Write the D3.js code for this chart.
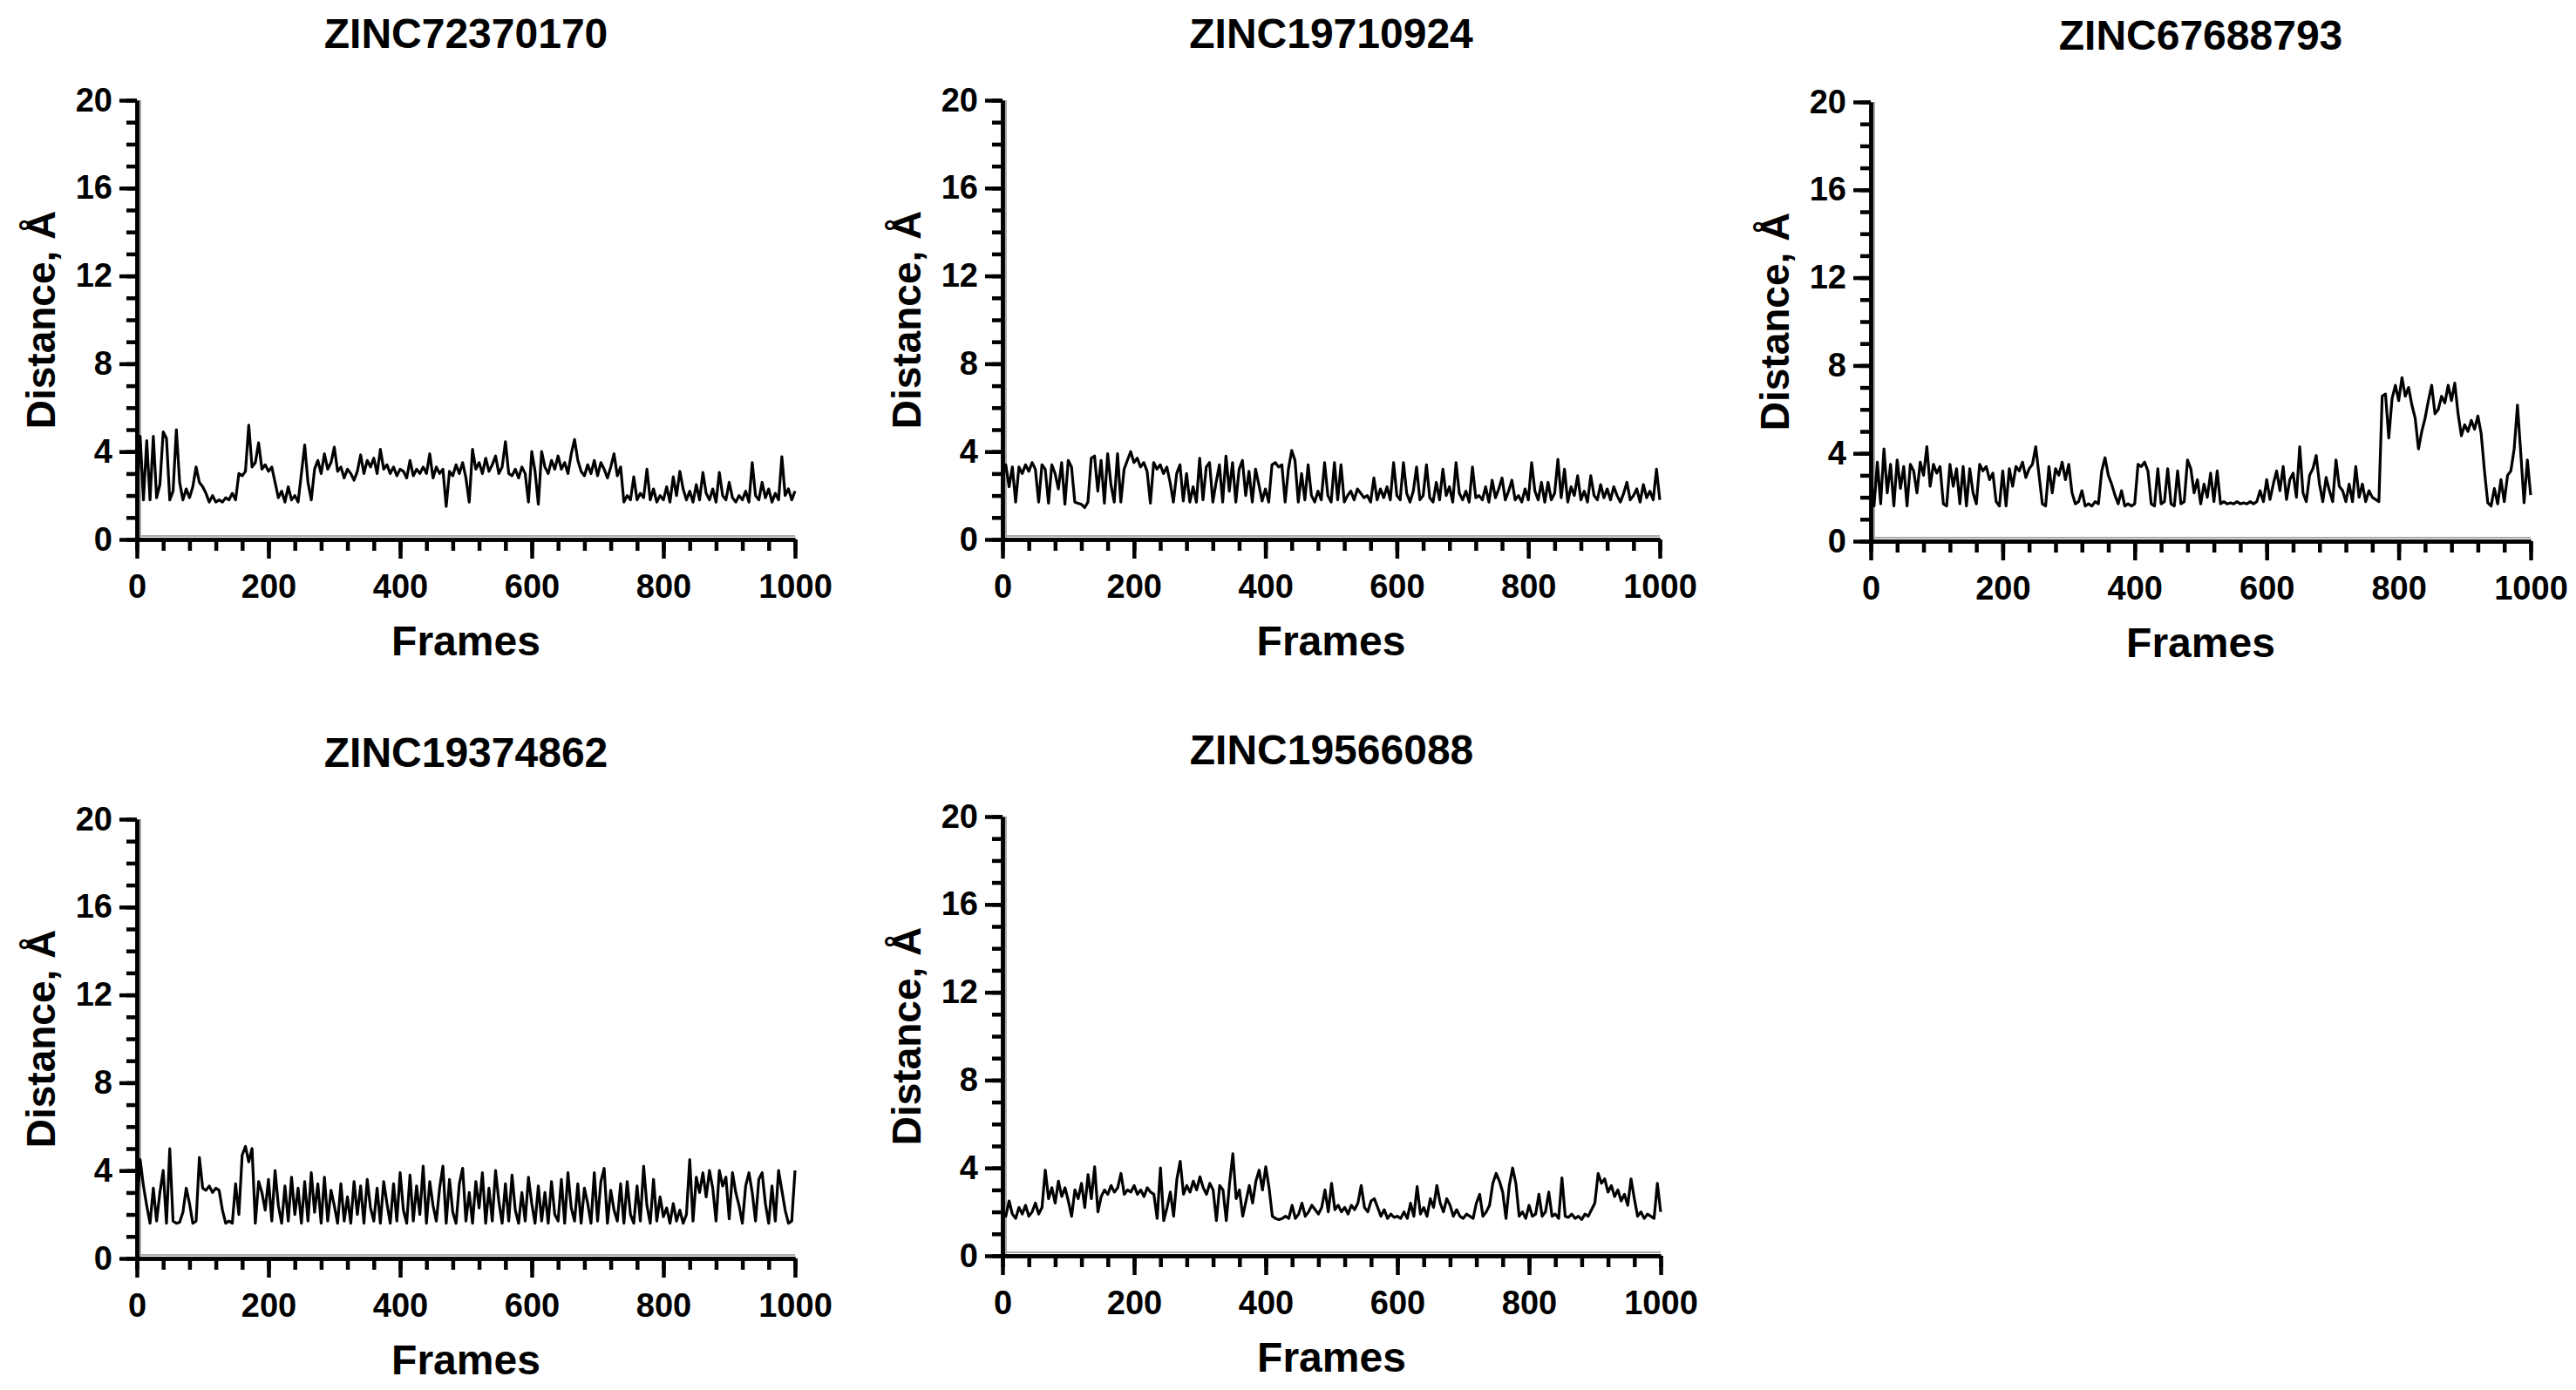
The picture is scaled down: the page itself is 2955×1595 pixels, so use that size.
<!DOCTYPE html>
<html><head><meta charset="utf-8">
<script src="https://cdn.jsdelivr.net/npm/d3@7"></script>
<style>
html,body{margin:0;padding:0;background:#fff;}
svg{display:block;background:#fff;}
text{font-family:"Liberation Sans",Arial,Helvetica,sans-serif;font-weight:bold;fill:#000;}
</style></head><body>
<svg id="chart" width="2955" height="1595"></svg>
<script>
// ---------- data ----------
const titles = ["ZINC72370170", "ZINC19710924", "ZINC67688793", "ZINC19374862", "ZINC19566088"];
const frameStep = 5;            // one value every 5 frames, frames 0..1000
const xTickValues = [0, 200, 400, 600, 800, 1000];
const yTickValues = [0, 4, 8, 12, 16, 20];
const xLabel = "Frames";
const yLabel = "Distance, Å";

const dist_ZINC72370170 = [
 2.0,4.7,1.8,4.5,1.8,4.7,1.9,2.5,4.9,4.6, 1.8,2.2,5.0,2.6,1.8,2.3,1.9,2.4,3.3,2.6,
 2.4,2.1,1.7,2.0,1.7,1.8,1.7,1.9,1.8,2.1, 1.8,3.0,2.9,3.1,5.2,3.3,3.5,4.4,3.2,3.4,
 3.1,3.3,2.6,1.9,2.2,1.7,2.4,1.8,2.0,1.7, 3.0,4.3,2.6,1.8,3.2,3.6,3.0,3.9,3.2,3.5,
 4.2,3.1,3.3,2.8,3.2,3.0,2.7,3.1,3.85,3.0, 3.6,3.3,3.7,3.0,4.1,3.2,3.4,3.0,3.3,2.9,
 3.2,3.1,2.8,3.6,2.9,3.2,3.0,3.3,3.0,3.9, 2.8,3.3,3.0,3.2,1.5,3.1,2.9,3.4,3.0,3.5,
 2.8,1.7,4.1,3.2,3.5,3.0,3.7,3.1,3.4,3.8, 3.0,3.3,4.45,3.0,2.9,3.2,2.8,3.3,3.0,1.7,
 4.0,3.1,1.6,4.0,3.3,3.0,3.6,3.2,3.8,3.2, 3.5,3.0,3.9,4.55,3.6,3.1,2.9,3.4,3.0,3.6,
 2.9,3.5,3.2,2.8,3.3,3.9,2.9,3.3,1.7,2.0, 1.8,2.85,1.8,2.1,1.9,3.2,1.8,2.3,1.7,2.0,
 1.8,2.4,1.7,2.85,2.0,3.1,2.3,1.8,2.2,1.7, 2.5,1.8,3.05,2.1,1.8,2.3,1.7,3.05,2.0,1.8,
 2.6,1.9,1.7,2.0,1.8,2.2,1.7,3.5,2.0,1.8, 2.6,1.9,2.3,1.7,2.1,1.8,3.77,2.0,2.3,1.8,
 2.2
];
const dist_ZINC19710924 = [
 2.8,3.4,2.4,3.3,1.7,3.3,3.0,3.4,3.1,3.5, 3.2,1.7,3.4,3.2,1.65,3.4,3.0,2.3,3.5,1.6,
 3.6,3.3,1.7,1.65,1.6,1.45,1.7,3.7,3.8,2.2, 3.6,1.65,3.9,2.5,1.7,3.9,1.7,3.2,3.6,4.0,
 3.5,3.7,3.3,3.5,3.1,1.65,3.5,3.2,3.4,3.0, 3.3,2.6,1.7,3.0,3.4,1.75,3.0,1.7,2.4,1.7,
 3.7,1.8,3.3,3.5,1.7,2.6,3.4,1.7,3.8,2.2, 3.5,1.7,3.2,3.6,2.0,3.1,1.7,3.2,2.5,1.75,
 2.3,1.7,3.4,3.5,3.3,3.4,1.7,3.2,4.05,3.6, 1.7,3.0,1.8,3.4,2.0,1.7,2.2,1.8,3.5,2.0,
 1.7,3.5,1.8,3.4,1.7,2.0,2.2,1.8,2.3,2.1, 1.9,2.0,1.7,2.8,1.8,2.3,1.9,2.4,1.8,3.5,
 2.0,1.8,3.5,2.1,1.7,2.2,3.3,1.8,2.0,3.4, 1.9,1.7,2.6,1.8,3.2,2.0,2.4,1.7,3.5,2.1,
 1.8,2.2,1.7,3.3,1.9,2.0,1.8,2.4,1.7,2.7, 1.9,2.3,2.8,1.8,2.2,2.7,1.8,2.0,1.7,2.3,
 1.8,3.5,2.2,1.8,2.6,1.7,2.6,1.8,2.1,3.65, 1.9,3.2,1.7,2.4,2.0,2.9,1.8,2.2,1.7,2.9,
 2.0,1.8,2.5,1.9,2.3,1.8,2.4,2.0,1.7,2.1, 2.6,1.8,2.0,2.3,1.7,2.5,1.9,2.2,1.8,3.2,
 1.8
];
const dist_ZINC67688793 = [
 3.0,1.6,3.6,1.7,4.2,2.2,3.5,1.6,3.7,2.4, 3.4,1.6,3.5,3.2,2.2,3.6,3.0,4.3,2.5,3.5,
 3.1,3.4,1.7,1.6,3.5,2.5,3.3,1.7,3.4,1.6, 3.3,2.2,1.7,3.5,3.2,3.4,2.8,3.1,1.8,1.6,
 3.2,1.6,3.3,2.5,3.4,3.2,3.6,2.9,3.3,3.5, 4.3,3.0,1.7,1.6,3.4,2.2,3.3,3.0,3.6,2.8,
 3.5,2.2,1.7,1.8,2.3,1.6,1.7,1.6,1.8,1.7, 3.2,3.8,3.0,2.6,2.1,1.7,2.3,1.6,1.7,1.6,
 1.7,3.5,3.4,3.6,3.2,1.7,1.6,3.3,1.7,1.8, 3.3,1.7,1.6,3.2,1.7,1.8,3.7,3.3,2.2,2.8,
 1.7,2.6,2.0,3.1,1.8,3.2,1.7,1.8,1.7,1.75, 1.7,1.8,1.7,1.75,1.7,1.8,1.7,1.8,2.3,1.8,
 2.8,1.9,2.6,3.2,2.3,3.4,1.9,2.8,3.1,2.0, 4.3,2.2,1.8,3.0,3.3,3.9,2.6,1.8,2.9,2.3,
 1.8,3.7,2.5,2.3,1.8,2.6,1.8,3.4,2.0,2.6, 1.8,2.3,2.0,1.9,1.8,6.6,6.7,4.7,6.5,7.1,
 6.4,7.45,6.6,7.0,6.2,5.6,4.2,5.0,5.6,6.4, 7.1,5.8,6.0,6.6,6.3,7.1,6.4,7.2,5.8,4.8,
 5.3,5.0,5.5,5.1,5.7,4.9,3.2,1.75,1.6,2.4, 1.7,2.8,1.8,3.0,3.2,4.2,6.2,4.0,1.75,3.7,
 2.1
];
const dist_ZINC19374862 = [
 2.3,4.5,3.3,2.4,1.6,3.2,1.7,3.0,4.0,1.6, 5.0,1.7,1.6,1.65,2.1,3.2,2.5,1.6,1.7,4.6,
 3.2,3.1,3.3,3.0,3.2,3.1,2.2,1.6,1.7,1.6, 3.4,2.0,4.7,5.1,4.4,5.0,1.6,3.5,3.0,2.2,
 3.6,1.7,4.0,2.4,1.6,3.3,1.7,3.7,2.0,3.2, 1.6,3.5,1.7,3.9,2.1,3.4,1.6,3.7,1.7,3.1,
 2.4,1.6,3.4,1.7,2.8,1.6,3.5,2.0,3.3,1.6, 3.6,2.3,1.7,3.2,1.6,3.5,2.5,1.6,3.4,1.7,
 3.9,2.2,1.6,3.8,1.7,3.3,2.0,4.2,1.6,3.5, 2.4,1.7,3.2,4.2,1.6,3.6,2.1,1.6,3.4,4.1,
 1.7,3.0,1.6,3.5,2.3,3.9,1.6,3.2,1.7,4.0, 2.6,1.6,3.4,1.7,3.8,2.2,1.6,3.0,1.7,3.7,
 2.5,1.6,3.3,1.7,3.0,1.6,3.5,2.0,1.7,3.6, 1.6,3.9,2.3,1.7,3.4,1.6,3.2,2.5,1.6,3.9,
 1.7,3.5,4.1,1.6,3.1,2.2,1.7,3.4,1.6,3.5, 2.0,1.6,3.3,1.7,4.2,2.4,1.6,3.6,1.7,2.8,
 1.9,2.3,1.6,2.5,1.7,2.2,1.6,2.0,4.5,1.7, 3.7,3.0,3.9,2.8,4.0,3.2,1.7,4.0,3.3,3.7,
 1.8,3.9,3.0,2.4,1.6,3.3,3.9,3.0,1.7,3.6, 3.9,2.5,1.6,3.3,1.7,4.0,3.1,2.2,1.6,1.7,
 4.0
];
const dist_ZINC19566088 = [
 2.0,1.8,2.5,1.9,1.7,2.2,1.9,2.3,1.8,2.0, 2.4,1.9,2.2,3.9,2.6,3.1,2.4,3.4,2.7,3.1,
 2.5,1.8,3.0,2.6,3.3,2.2,3.7,2.6,4.05,2.0, 2.7,3.0,2.8,3.2,2.9,3.1,3.75,2.8,3.0,2.9,
 3.2,2.8,3.0,2.7,3.1,2.9,2.8,1.7,4.0,1.6, 2.2,2.9,1.8,3.5,4.3,2.8,3.2,2.9,3.4,3.0,
 3.6,3.1,2.8,3.3,3.0,1.6,3.2,3.0,1.6,3.3, 4.65,2.6,3.0,1.8,2.5,3.2,2.4,3.4,3.9,3.0,
 4.05,3.1,1.8,1.7,1.65,1.7,1.8,1.7,2.3,1.7, 1.9,2.4,1.8,2.0,2.3,2.1,1.9,2.2,3.0,2.0,
 3.3,2.1,2.3,2.0,2.2,1.9,2.3,2.1,2.4,3.2, 2.2,2.0,2.5,2.6,2.2,1.8,2.1,1.7,1.9,1.75,
 1.8,1.7,2.0,1.7,2.4,1.8,3.15,1.9,2.2,1.8, 2.6,2.2,3.2,2.4,2.0,2.6,2.3,1.8,2.1,1.8,
 1.7,1.9,1.8,1.7,2.4,2.8,1.8,2.0,2.3,3.3, 3.75,3.4,2.9,1.7,3.2,4.0,3.3,1.8,2.0,1.7,
 2.3,1.8,1.9,2.8,1.8,2.0,2.9,1.8,1.9,1.7, 3.55,1.8,1.75,1.9,1.7,1.8,1.65,1.9,1.8,2.1,
 2.4,3.75,3.3,3.5,2.9,3.2,2.7,3.0,2.5,2.8, 2.3,3.5,2.6,1.8,2.0,1.7,1.9,1.8,1.7,3.3,
 2.0
];
const seriesList = [dist_ZINC72370170, dist_ZINC19710924, dist_ZINC67688793, dist_ZINC19374862, dist_ZINC19566088];

// ---------- layout (pixels) ----------
const layout = [
  {left: 157,  right: 912,  top: 115, bottom: 619},
  {left: 1150, right: 1904, top: 115, bottom: 619},
  {left: 2146, right: 2903, top: 117, bottom: 621},
  {left: 157,  right: 912,  top: 940, bottom: 1444},
  {left: 1150, right: 1905, top: 937, bottom: 1441}
];

const svg = d3.select("#chart");
svg.append("rect").attr("width", 2955).attr("height", 1595).attr("fill", "#fff");

const AXW = 4.5;

layout.forEach((L, k) => {
  const values = seriesList[k];
  const x = d3.scaleLinear().domain([0, 1000]).range([L.left, L.right]);
  const y = d3.scaleLinear().domain([0, 20]).range([L.bottom, L.top]);
  const g = svg.append("g");

  // faint inner shadow lines along the axes
  g.append("line").attr("x1", L.left).attr("x2", L.right).attr("y1", L.bottom - 4).attr("y2", L.bottom - 4)
    .attr("stroke", "#aaa").attr("stroke-width", 2);
  g.append("line").attr("x1", L.left + 4).attr("x2", L.left + 4).attr("y1", L.top).attr("y2", L.bottom)
    .attr("stroke", "#aaa").attr("stroke-width", 2);

  // data line
  const line = d3.line().x((d, i) => x(i * frameStep)).y(d => y(d));
  g.append("path").datum(values).attr("d", line)
    .attr("fill", "none").attr("stroke", "#000").attr("stroke-width", 3.2)
    .attr("stroke-linejoin", "round");

  // x axis (minor + major)
  const xMinor = d3.axisBottom(x).tickValues(d3.range(0, 1001, 40)).tickSize(13).tickSizeOuter(0).tickFormat("");
  const xMajor = d3.axisBottom(x).tickValues(xTickValues).tickSize(22).tickSizeOuter(0).tickPadding(18)
    .tickFormat(d3.format("d"));
  const gx1 = g.append("g").attr("transform", `translate(0,${L.bottom})`).call(xMinor);
  const gx2 = g.append("g").attr("transform", `translate(0,${L.bottom})`).call(xMajor);
  // y axis
  const yMinor = d3.axisLeft(y).tickValues(d3.range(0, 21, 1)).tickSize(12).tickSizeOuter(0).tickFormat("");
  const yMajor = d3.axisLeft(y).tickValues(yTickValues).tickSize(20).tickSizeOuter(0).tickPadding(8)
    .tickFormat(d3.format("d"));
  const gy1 = g.append("g").attr("transform", `translate(${L.left},0)`).call(yMinor);
  const gy2 = g.append("g").attr("transform", `translate(${L.left},0)`).call(yMajor);

  [gx1, gx2, gy1, gy2].forEach(a => {
    a.selectAll("path.domain").attr("stroke", "#000").attr("stroke-width", AXW);
    a.selectAll(".tick line").attr("stroke", "#000").attr("stroke-width", AXW);
    a.selectAll(".tick text").attr("font-size", 38).attr("font-weight", "bold")
      .attr("font-family", '"Liberation Sans", Arial, sans-serif').attr("fill", "#000");
  });

  // title
  g.append("text").attr("x", (L.left + L.right) / 2).attr("y", L.top - 60)
    .attr("text-anchor", "middle").attr("font-size", 48).text(titles[k]);
  // x label
  g.append("text").attr("x", (L.left + L.right) / 2).attr("y", L.bottom + 133)
    .attr("text-anchor", "middle").attr("font-size", 48).text(xLabel);
  // y label
  g.append("text").attr("transform", `translate(${L.left - 94},${(L.top + L.bottom) / 2}) rotate(-90)`)
    .attr("text-anchor", "middle").attr("font-size", 46).text(yLabel);
});
</script>
</body></html>
